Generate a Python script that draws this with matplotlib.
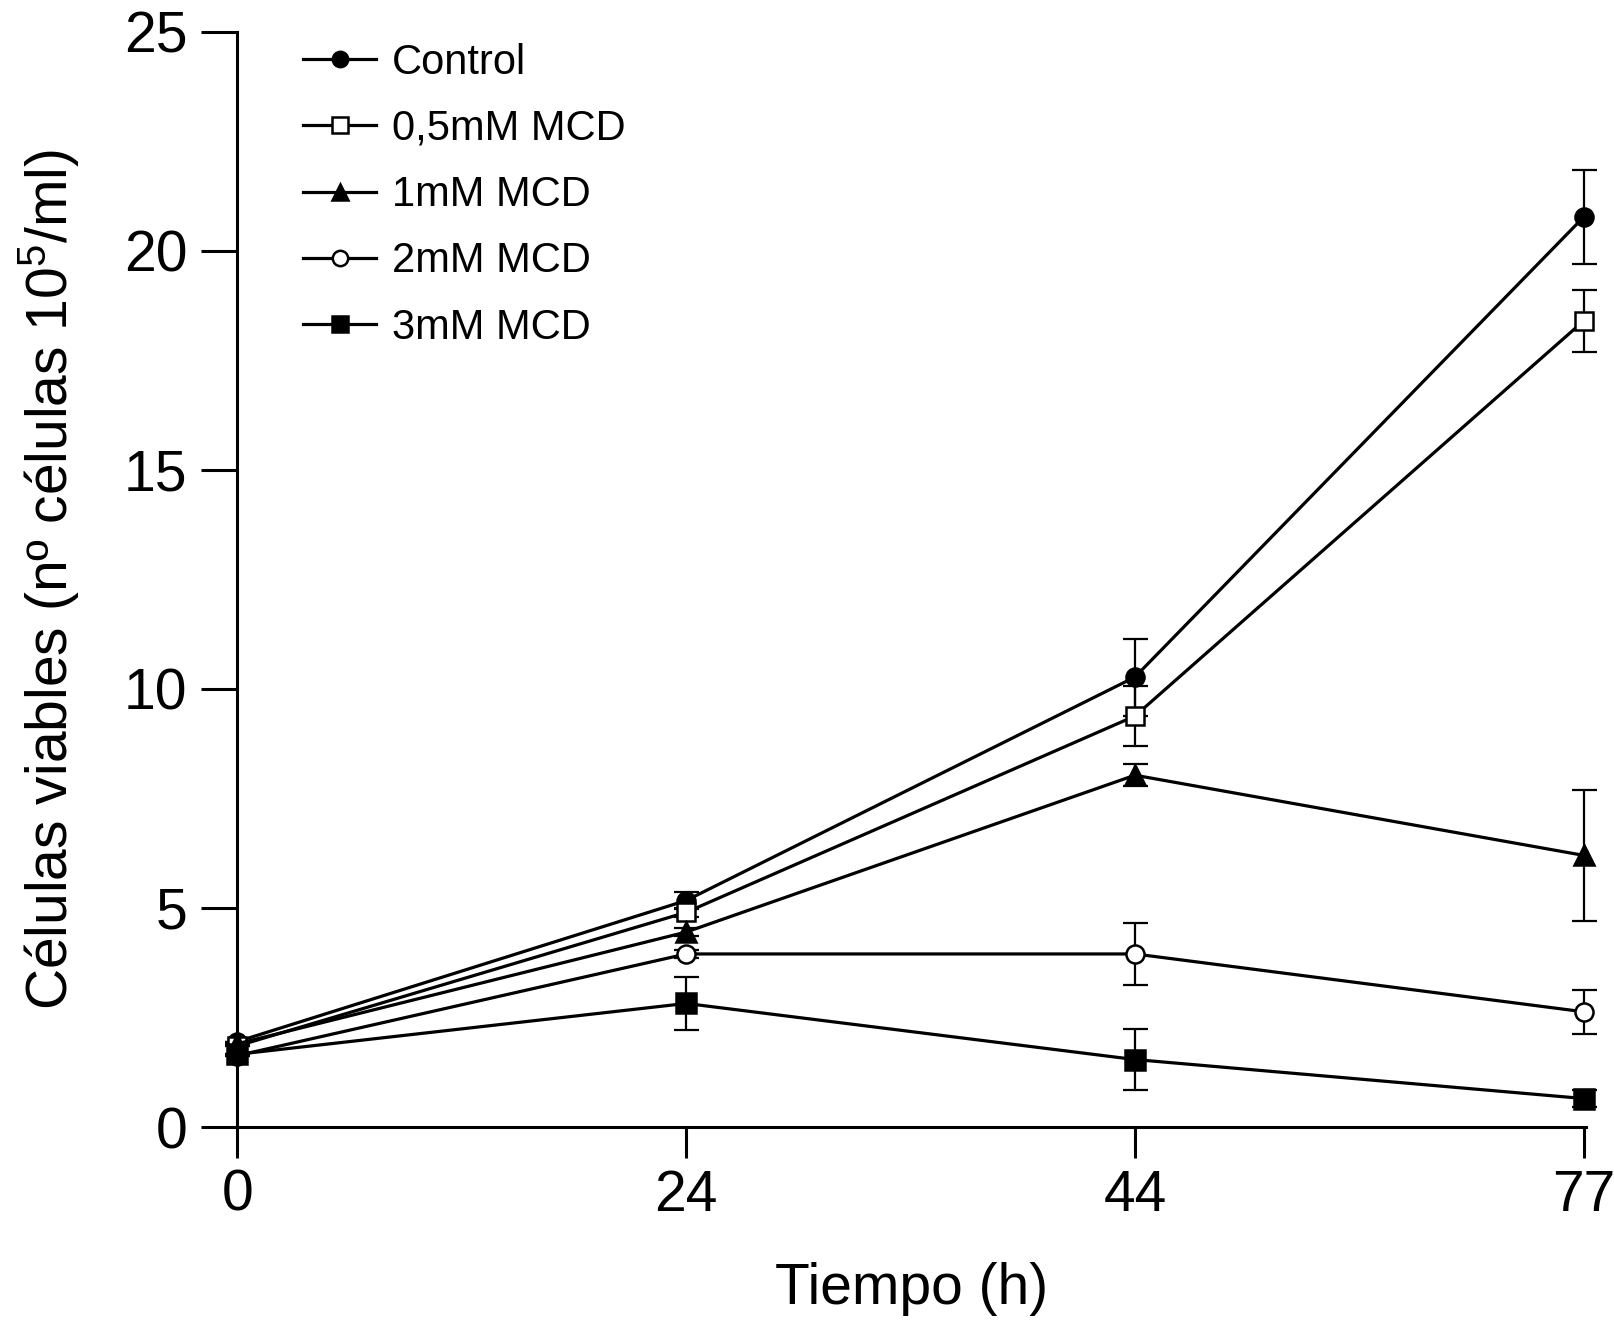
import numpy as np
import matplotlib.pyplot as plt

plt.rcParams['font.family'] = ['Liberation Sans', 'DejaVu Sans']
plt.rcParams['mathtext.fontset'] = 'custom'
plt.rcParams['mathtext.rm'] = 'Liberation Sans'
plt.rcParams['mathtext.it'] = 'Liberation Sans'

# data
hours = ['0', '24', '44', '77']
labels = ['Control', '0,5mM MCD', '1mM MCD', '2mM MCD', '3mM MCD']
control = [1.95, 5.17, 10.27, 20.77]
control_err = [0.0, 0.2, 0.88, 1.07]
mcd_05 = [1.85, 4.90, 9.38, 18.40]
mcd_05_err = [0.0, 0.1, 0.69, 0.70]
mcd_1 = [1.90, 4.45, 8.03, 6.20]
mcd_1_err = [0.0, 0.1, 0.25, 1.50]
mcd_2 = [1.63, 3.95, 3.95, 2.63]
mcd_2_err = [0.0, 0.1, 0.70, 0.50]
mcd_3 = [1.66, 2.82, 1.54, 0.65]
mcd_3_err = [0.0, 0.6, 0.70, 0.20]

series = [control, mcd_05, mcd_1, mcd_2, mcd_3]
errors = [control_err, mcd_05_err, mcd_1_err, mcd_2_err, mcd_3_err]
markers = ['o', 's', '^', 'o', 's']
faces = ['black', 'white', 'black', 'white', 'black']
sizes = [13, 13, 14, 13, 14]

fig = plt.figure(figsize=(16.15, 13.22), dpi=100)
ax = fig.add_axes([0.147, 0.1475, 0.835, 0.8285])

x = np.arange(len(hours))
handles = []
for i in range(len(series)):
    ax.errorbar(x, series[i], yerr=errors[i], fmt='none', ecolor='black',
                elinewidth=1.6, capsize=9, capthick=1.6,
                clip_on=False, zorder=2)
    h, = ax.plot(x, series[i], color='black', lw=2.3, marker=markers[i],
                 markersize=sizes[i], markerfacecolor=faces[i],
                 markeredgecolor='black', markeredgewidth=1.8,
                 clip_on=False, zorder=3, label=labels[i])
    handles.append(h)

ax.set_xlim(0, 3.005)
ax.set_ylim(0, 25)
ax.set_xticks(x)
ax.set_xticklabels(hours)
ax.set_yticks([0, 5, 10, 15, 20, 25])

for side in ['top', 'right']:
    ax.spines[side].set_visible(False)
for side in ['left', 'bottom']:
    ax.spines[side].set_linewidth(2.2)

ax.tick_params(axis='y', direction='out', length=26, width=2.2, labelsize=41, pad=10)
ax.tick_params(axis='x', direction='out', length=22, width=2.2, labelsize=41, pad=8)

ax.set_xlabel('Tiempo (h)', fontsize=41, labelpad=28)
ax.set_ylabel('Células viables (nº células 10$^5$/ml)', fontsize=41, labelpad=31)

leg = ax.legend(handles=handles, loc='upper left', bbox_to_anchor=(0.049, 0.99),
                frameon=False, fontsize=30, markerscale=0.85, handlelength=1.75,
                handletextpad=0.38, labelspacing=0.63, borderpad=0, borderaxespad=0)

fig.savefig('out.png', dpi=100)
